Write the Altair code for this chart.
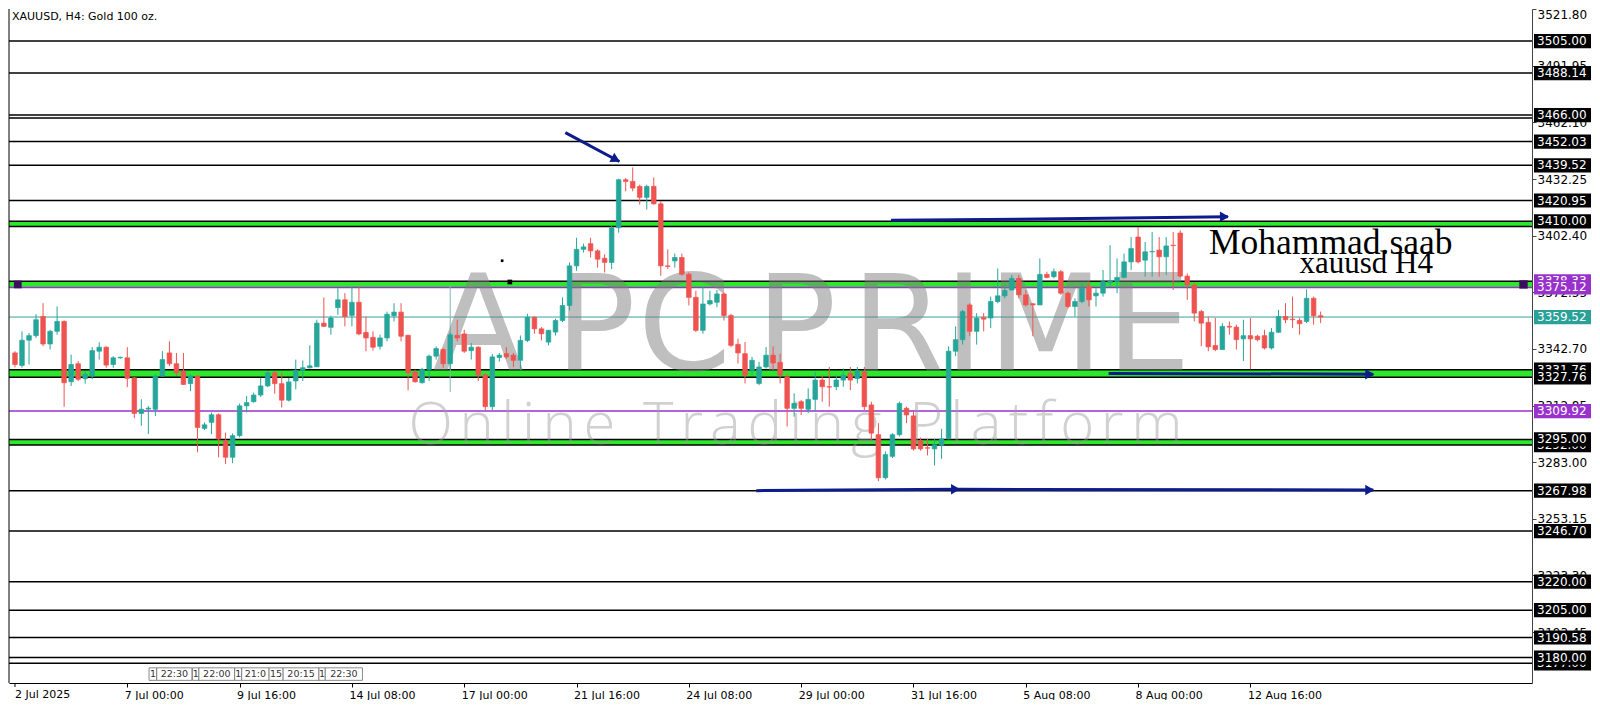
import altair as alt
import pandas as pd

W, H = 1523, 674
X_DOM = [0.86, 216.4]
Y_DOM = [3166.6, 3521.9]

opens = [3340.6,3334.0,3347.3,3349.7,3359.8,3345.3,3352.0,3357.2,3325.4,3334.9,3327.0,3328.4,3341.5,3343.6,3334.5,3338.0,3338.0,3327.5,3308.7,3311.0,
         3310.9,3328.4,3340.6,3334.9,3331.0,3324.4,3328.4,3300.8,3304.0,3308.0,3294.3,3285.6,3297.0,3312.7,3314.9,3318.4,3323.2,3330.1,3324.4,3315.7,
         3325.8,3331.4,3332.8,3333.3,3356.3,3354.1,3364.5,3368.6,3360.4,3367.3,3351.4,3348.8,3344.1,3348.5,3360.2,3362.1,3349.9,3330.5,3324.9,3331.9,
         3338.9,3342.4,3334.9,3349.9,3350.6,3341.8,3343.6,3329.0,3312.3,3338.2,3340.2,3339.4,3336.7,3347.2,3359.4,3353.3,3346.3,3351.6,3357.7,3365.6,
         3386.5,3395.2,3398.2,3394.4,3390.5,3388.3,3406.6,3431.9,3431.0,3428.4,3422.6,3428.4,3419.2,3386.5,3389.1,3390.9,3382.1,3369.9,3352.5,3366.4,
         3367.3,3371.7,3360.3,3345.1,3340.2,3331.5,3324.5,3333.2,3339.4,3335.6,3328.0,3311.4,3314.9,3310.9,3316.1,3326.3,3322.8,3322.8,3326.3,3329.8,
         3327.1,3330.6,3313.2,3297.5,3274.8,3286.1,3297.5,3311.4,3307.4,3294.4,3290.6,3290.0,3292.0,3295.3,3341.5,3347.6,3365.9,3352.0,3359.3,3359.0,
         3367.7,3370.7,3373.8,3379.9,3371.2,3366.5,3365.9,3382.0,3380.8,3383.4,3372.1,3365.1,3367.7,3375.5,3370.7,3372.1,3377.6,3378.2,3380.4,3388.6,
         3401.7,3389.5,3393.9,3394.8,3391.3,3397.4,3403.8,3381.1,3376.4,3362.4,3356.7,3344.5,3342.4,3354.6,3354.2,3348.0,3349.7,3349.4,3349.7,3343.2,
         3351.5,3359.8,3358.4,3357.7,3357.2,3369.4,3360.2]
highs = [3341.5,3352.0,3351.1,3361.0,3366.8,3352.8,3365.1,3357.8,3339.7,3336.3,3331.0,3343.6,3346.2,3344.1,3338.9,3338.6,3343.6,3327.9,3316.2,3312.6,
         3329.3,3341.5,3346.7,3340.6,3340.6,3329.3,3328.9,3303.9,3309.2,3308.7,3298.6,3298.2,3313.9,3317.9,3319.7,3327.5,3331.0,3331.0,3330.1,3327.5,
         3337.1,3336.6,3344.6,3358.1,3369.8,3360.2,3374.7,3372.1,3375.5,3375.5,3359.8,3352.0,3350.2,3362.4,3366.8,3366.8,3350.2,3331.9,3332.8,3339.7,
         3344.1,3343.2,3351.4,3358.1,3352.8,3345.8,3344.1,3330.0,3340.0,3340.6,3343.7,3340.6,3349.8,3361.2,3359.8,3354.2,3352.8,3358.6,3369.9,3388.3,
         3401.3,3398.2,3401.3,3395.2,3392.6,3407.5,3432.4,3432.8,3438.4,3429.3,3429.3,3433.1,3420.6,3395.2,3393.0,3393.0,3383.0,3373.4,3375.2,3373.4,
         3373.8,3372.5,3361.2,3348.1,3346.3,3338.5,3335.9,3343.7,3344.1,3340.2,3329.8,3319.3,3315.8,3321.9,3330.6,3328.9,3333.2,3328.9,3332.4,3333.2,
         3333.2,3333.2,3314.9,3303.6,3288.7,3298.3,3314.9,3312.3,3310.1,3296.0,3295.3,3295.3,3300.6,3344.1,3354.6,3363.3,3366.8,3361.6,3361.6,3370.3,
         3385.1,3376.4,3381.7,3381.7,3373.8,3366.8,3390.4,3383.4,3385.1,3384.3,3372.9,3369.4,3377.3,3378.2,3374.7,3384.3,3397.4,3390.4,3393.0,3401.7,
         3407.0,3399.1,3404.4,3401.7,3401.7,3404.4,3405.2,3382.5,3377.6,3363.3,3359.8,3359.0,3356.3,3357.2,3355.5,3358.1,3359.0,3350.2,3352.8,3353.7,
         3363.3,3366.8,3370.3,3359.0,3374.1,3370.3,3362.4]
lows = [3333.0,3332.8,3334.5,3348.5,3344.1,3342.4,3350.2,3312.2,3323.2,3325.8,3324.4,3326.7,3337.1,3332.8,3332.8,3337.6,3322.6,3306.2,3302.2,3297.8,
        3307.4,3327.9,3333.6,3328.4,3323.7,3320.5,3288.2,3300.0,3297.8,3285.6,3282.0,3282.5,3296.1,3309.2,3314.4,3317.4,3322.6,3319.1,3311.8,3315.0,
        3321.4,3325.8,3332.4,3333.1,3354.4,3350.2,3360.7,3354.6,3354.6,3349.9,3341.5,3341.8,3342.4,3346.7,3357.2,3346.7,3320.9,3324.9,3324.4,3325.8,
        3337.1,3332.8,3331.9,3346.7,3340.6,3337.1,3325.8,3310.5,3310.5,3336.0,3337.6,3333.2,3331.5,3346.3,3350.7,3347.2,3344.6,3349.8,3356.8,3363.0,
        3383.9,3393.5,3390.9,3385.6,3383.0,3384.8,3404.0,3425.8,3425.8,3418.8,3416.2,3418.8,3381.3,3384.8,3385.6,3381.3,3365.6,3351.6,3350.7,3365.6,
        3364.7,3357.7,3343.7,3335.0,3324.5,3328.9,3323.6,3332.4,3331.5,3324.5,3301.8,3307.0,3307.9,3308.8,3309.7,3314.9,3312.3,3321.0,3322.8,3321.0,
        3324.5,3310.5,3294.8,3273.0,3273.9,3285.2,3296.6,3303.6,3289.1,3289.1,3286.6,3281.3,3284.8,3295.0,3338.9,3345.0,3349.4,3345.0,3352.0,3353.7,
        3366.8,3369.4,3373.5,3369.4,3365.1,3349.4,3365.9,3379.9,3379.9,3371.2,3364.2,3359.8,3366.8,3365.1,3365.1,3370.3,3375.5,3372.1,3379.9,3384.3,
        3387.8,3380.8,3380.8,3380.8,3381.7,3373.8,3380.4,3368.6,3357.2,3344.1,3341.5,3341.5,3342.4,3350.2,3342.4,3336.3,3331.9,3346.7,3342.4,3342.4,
        3351.1,3356.3,3353.7,3350.2,3356.3,3355.5,3356.3]
closes = [3334.5,3347.3,3349.7,3358.1,3345.3,3352.0,3357.2,3324.9,3334.5,3326.7,3329.3,3341.8,3343.6,3334.2,3338.0,3338.3,3327.2,3308.7,3310.9,3311.5,
          3328.4,3337.1,3334.9,3330.1,3324.0,3328.4,3301.3,3302.7,3308.0,3295.2,3285.6,3297.0,3312.7,3314.4,3318.4,3323.2,3330.1,3324.4,3315.7,3325.3,
          3331.4,3332.8,3333.8,3356.3,3354.6,3359.0,3368.6,3359.8,3367.3,3350.6,3348.5,3343.6,3348.5,3361.0,3362.1,3349.4,3330.1,3325.4,3331.9,3338.9,
          3342.9,3334.9,3350.2,3348.5,3341.5,3343.6,3328.9,3312.3,3338.5,3339.4,3338.5,3336.7,3347.2,3359.4,3353.3,3350.7,3352.5,3357.7,3365.6,3386.5,
          3395.2,3396.5,3394.4,3390.0,3388.3,3406.6,3431.9,3431.0,3427.5,3422.6,3428.4,3419.2,3386.5,3386.2,3390.9,3382.1,3369.9,3352.5,3366.4,3368.2,
          3371.7,3360.3,3344.6,3340.6,3328.9,3336.7,3333.2,3339.4,3335.3,3328.9,3311.4,3314.0,3311.4,3316.1,3326.3,3322.8,3322.6,3326.3,3328.9,3326.3,
          3331.2,3312.3,3298.3,3274.8,3287.0,3297.5,3314.0,3307.9,3290.0,3290.0,3290.4,3292.2,3295.3,3341.5,3347.6,3362.4,3352.0,3359.0,3358.4,3367.7,
          3370.7,3373.5,3379.9,3371.2,3365.9,3365.9,3382.0,3380.4,3383.4,3372.1,3365.1,3367.7,3374.7,3368.6,3372.1,3378.2,3378.6,3380.4,3388.6,3395.6,
          3388.6,3393.9,3394.1,3391.3,3397.0,3397.2,3381.1,3376.4,3361.6,3356.3,3343.8,3342.4,3354.6,3354.2,3347.6,3349.7,3348.0,3347.6,3343.2,3351.5,
          3359.8,3358.1,3358.1,3356.0,3369.4,3360.2,3359.5]

# x axis labels (every 16 H4 bars); the first one is drawn separately so it stays inside the frame
x_first_val, x_first_label = 1, "2 Jul 2025"
x_tick_vals = [17, 33, 49, 65, 81, 97, 113, 129, 145, 161, 177]
x_tick_labels = ["7 Jul 00:00", "9 Jul 16:00", "14 Jul 08:00", "17 Jul 00:00", "21 Jul 16:00",
                 "24 Jul 08:00", "29 Jul 00:00", "31 Jul 16:00", "5 Aug 08:00", "8 Aug 00:00", "12 Aug 16:00"]
y_tick_vals = [3521.80, 3491.95, 3462.10, 3432.25, 3402.40, 3372.55, 3342.70, 3312.85, 3283.00, 3253.15, 3223.30, 3193.45]

# horizontal levels
line_prices = [3505.00, 3488.14, 3466.00, 3464.40, 3452.03, 3439.52, 3420.95, 3410.00, 3407.20, 3378.33, 3375.12,
               3359.52, 3331.76, 3327.76, 3309.92, 3295.00, 3292.00, 3267.98, 3246.70, 3220.00, 3205.00, 3190.58,
               3180.00, 3177.00]
line_colors = ["#000000"] * 10 + ["#9932cc", "#3a9fa0"] + ["#000000"] * 2 + ["#9932cc"] + ["#000000"] * 9
line_widths = [1.5] * 10 + [1.5, 1.0] + [1.5] * 2 + [1.5] + [1.5] * 9

band_lo = [3407.20, 3375.12, 3327.76, 3292.00]
band_hi = [3410.00, 3378.33, 3331.76, 3295.00]

# price tags on the right
tag_bg_prices = [3378.33, 3331.76, 3292.00, 3177.00]
tag_bg_colors = ["#9932cc", "#000000", "#000000", "#000000"]
tag_fg_prices = [3505.00, 3488.14, 3466.00, 3452.03, 3439.52, 3420.95, 3410.00, 3375.12, 3359.52, 3327.76,
                 3309.92, 3295.00, 3267.98, 3246.70, 3220.00, 3205.00, 3190.58, 3180.00]
tag_fg_colors = ["#000000"] * 7 + ["#9932cc", "#2aa198", "#000000", "#9932cc"] + ["#000000"] * 7

# drawn arrows (bar index, price)
arrow_id = ["a1", "a1", "a2", "a2", "a2", "a3", "a3", "a4", "a4", "a4"]
arrow_n = [79.4, 87.1, 125.8, 150.0, 173.8, 156.8, 194.5, 106.6, 135.5, 194.5]
arrow_p = [3456.7, 3441.5, 3410.6, 3411.3, 3412.4, 3329.8, 3329.4, 3268.0, 3268.7, 3268.4]
head_n = [86.6, 173.3, 194.0, 135.0, 194.0]
head_p = [3442.5, 3412.4, 3329.4, 3268.7, 3268.4]
head_angle = [28, 0, 0, 0, 0]

# time markers strip
tm_start = [20.1, 21.2, 26.3, 27.2, 32.3, 33.3, 37.2, 39.2, 44.3, 45.2]
tm_end = [21.2, 26.2, 27.2, 32.3, 33.3, 37.2, 39.2, 44.3, 45.2, 50.5]
tm_text = ["1", "22:30", "1", "22:00", "1", "21:0", "15", "20:15", "1", "22:30"]

# watermark letters
wm_letters = ["A", "P", "C", "P", "R", "I", "M", "E"]
wm_letter_n = [67.0, 83.7, 96.4, 112.3, 126.8, 136.2, 147.8, 162.5]
wm_sub = "Online Trading Platform"

FONT = "DejaVu Sans"
xs = alt.Scale(domain=X_DOM, nice=False, zero=False)
ys = alt.Scale(domain=Y_DOM, nice=False, zero=False)

label_expr = "[" + ",".join("'%s'" % s for s in x_tick_labels) + "][round((datum.value-17)/16)]"
x_axis = alt.Axis(values=x_tick_vals, labelExpr=label_expr, title=None, grid=False, orient="bottom",
                  labelAlign="left", labelPadding=2, labelOffset=-3, tickSize=4, tickColor="#000000",
                  domainColor="#000000", labelFont=FONT, labelFontSize=11, labelColor="#000000",
                  labelOverlap=False, labelFlush=False)
y_axis = alt.Axis(values=y_tick_vals, format=".2f", orient="right", title=None, grid=False, tickSize=4,
                  labelPadding=1, tickColor="#444444", domainColor="#444444", labelFont=FONT, labelFontSize=12,
                  labelColor="#000000", labelOverlap=False, labelFlush=4, labelAlign="left")


def X(f):
    return alt.X(f, scale=xs, axis=x_axis)


def Y(f):
    return alt.Y(f, scale=ys, axis=y_axis)


bars = pd.DataFrame({"n": list(range(1, len(opens) + 1)), "o": opens, "h": highs, "l": lows, "c": closes})
bars["col"] = ["#26a69a" if c >= o else "#ef5350" for o, c in zip(opens, closes)]

bands_df = pd.DataFrame({"lo": band_lo, "hi": band_hi})
bands = alt.Chart(bands_df).mark_rect(color="#2ee62e").encode(
    x=alt.value(0), x2=alt.value(W), y=Y("lo:Q"), y2="hi:Q")

lines_df = pd.DataFrame({"p": line_prices, "col": line_colors, "w": line_widths})
hlines = alt.Chart(lines_df).mark_rule().encode(
    y=Y("p:Q"), color=alt.Color("col:N", scale=None), strokeWidth=alt.StrokeWidth("w:Q", scale=None))

vline = alt.Chart(pd.DataFrame({"n": [63], "a": [3376.0], "b": [3320.0]})).mark_rule(
    color="#86b4b4", strokeWidth=1).encode(x=X("n:Q"), y=Y("a:Q"), y2="b:Q")

# watermark: big letters placed where they sit in the picture
wm_df = pd.DataFrame({"n": wm_letter_n, "p": [3331.7] * len(wm_letters), "t": wm_letters})
wm1 = alt.Chart(wm_df).mark_text(font=FONT, fontSize=134, align="center", baseline="alphabetic",
                                 color="#808080", opacity=0.5).encode(x=X("n:Q"), y=Y("p:Q"), text="t:N")

# subtitle letters with wide tracking (approximate Open Sans advance widths, em)
adv = {"O": .78, "n": .617, "l": .258, "i": .258, "e": .561, " ": .26, "T": .552, "r": .408, "a": .556,
       "d": .613, "g": .546, "P": .603, "t": .361, "f": .336, "o": .6, "m": .937}
SUB_FS = 58
sub_start_n, sub_end_n = 57.0, 167.5
total_px = (sub_end_n - sub_start_n) * W / (X_DOM[1] - X_DOM[0])
nat = sum(adv[ch] for ch in wm_sub) * SUB_FS
track = (total_px - nat) / (len(wm_sub) - 1)
pos, cur = [], 0.0
for ch in wm_sub:
    w = adv[ch] * SUB_FS
    pos.append(sub_start_n + (cur + w / 2) * (X_DOM[1] - X_DOM[0]) / W)
    cur += w + track
sub_df = pd.DataFrame({"n": pos, "p": [3292.5] * len(wm_sub), "t": list(wm_sub)})
wm2 = alt.Chart(sub_df).mark_text(font="Open Sans", fontSize=SUB_FS, fontWeight=300, align="center",
                                  baseline="alphabetic", color="#9a9a9a", opacity=0.45).encode(
    x=X("n:Q"), y=Y("p:Q"), text="t:N")

wick = alt.Chart(bars).mark_rule(strokeWidth=1).encode(
    x=X("n:Q"), y=Y("l:Q"), y2="h:Q", color=alt.Color("col:N", scale=None))
body = alt.Chart(bars).mark_bar(size=4.6, strokeWidth=0.7).encode(
    x=X("n:Q"), y=Y("o:Q"), y2="c:Q", color=alt.Color("col:N", scale=None),
    stroke=alt.Stroke("col:N", scale=None))

arr_df = pd.DataFrame({"id": arrow_id, "n": arrow_n, "p": arrow_p})
arr = alt.Chart(arr_df).mark_line(color="#0c1c8c", strokeWidth=3).encode(
    x=X("n:Q"), y=Y("p:Q"), detail="id:N")
heads_df = pd.DataFrame({"n": head_n, "p": head_p, "ang": head_angle})
heads = alt.Chart(heads_df).mark_point(shape="triangle-right", filled=True, size=110, color="#0c1c8c",
                                       opacity=1).encode(
    x=X("n:Q"), y=Y("p:Q"), angle=alt.Angle("ang:Q", scale=None))

handles_df = pd.DataFrame({"n": [1.4, 215.9, 71.5, 70.4], "p": [3376.7, 3376.7, 3378.0, 3389.2],
                           "s": [60, 70, 22, 7], "col": ["#3b0f5c", "#3b0f5c", "#000000", "#000000"]})
handles = alt.Chart(handles_df).mark_square(opacity=1).encode(
    x=X("n:Q"), y=Y("p:Q"), size=alt.Size("s:Q", scale=None), color=alt.Color("col:N", scale=None))

sig_df = pd.DataFrame({"n": [171.1], "p": [3392.8], "t": ["Mohammad.saab"]})
sig1 = alt.Chart(sig_df).mark_text(font="Liberation Serif", fontSize=35.5, align="left",
                                   baseline="alphabetic", color="#000000").encode(
    x=X("n:Q"), y=Y("p:Q"), text="t:N")
sig2_df = pd.DataFrame({"n": [203.0], "p": [3382.6], "t": ["xauusd H4"]})
sig2 = alt.Chart(sig2_df).mark_text(font="Liberation Serif", fontSize=31, align="right",
                                    baseline="alphabetic", color="#000000").encode(
    x=X("n:Q"), y=Y("p:Q"), text="t:N")

title = alt.Chart(pd.DataFrame({"t": ["XAUUSD, H4:  Gold 100 oz."]})).mark_text(
    font=FONT, fontSize=11, align="left", baseline="top", color="#000000").encode(
    x=alt.value(3), y=alt.value(2), text="t:N")

# first date label + its tick, kept inside the frame
first_df = pd.DataFrame({"n": [x_first_val], "t": [x_first_label]})
first_tick = alt.Chart(first_df).mark_rule(color="#000000", strokeWidth=1).encode(
    x=X("n:Q"), y=alt.value(H), y2=alt.value(H + 4))
first_lab = alt.Chart(first_df).mark_text(font=FONT, fontSize=11, align="left", baseline="top",
                                          color="#000000").encode(
    x=X("n:Q"), y=alt.value(H + 6), text="t:N")

tm_df = pd.DataFrame({"a": tm_start, "b": tm_end, "t": tm_text})
tm_df["m"] = (tm_df["a"] + tm_df["b"]) / 2
tm_df["ya"] = 3174.6
tm_df["yb"] = 3168.0
tm_df["ym"] = 3171.3
tm_box = alt.Chart(tm_df).mark_rect(fill="#ffffff", stroke="#6f6f6f", strokeWidth=0.8).encode(
    x=X("a:Q"), x2="b:Q", y=Y("ya:Q"), y2="yb:Q")
tm_txt = alt.Chart(tm_df).mark_text(font=FONT, fontSize=9.5, align="center", baseline="middle",
                                    color="#333333").encode(x=X("m:Q"), y=Y("ym:Q"), text="t:N")


def tags(prices, colors):
    df = pd.DataFrame({"p": prices, "col": colors, "lab": ["%.2f" % v for v in prices]})
    df["top"] = df["p"] + 3.75
    df["bot"] = df["p"] - 3.75
    r = alt.Chart(df).mark_rect().encode(
        x=alt.value(W + 2), x2=alt.value(W + 59), y=Y("top:Q"), y2="bot:Q",
        color=alt.Color("col:N", scale=None))
    t = alt.Chart(df).mark_text(font=FONT, fontSize=12, align="left", baseline="middle",
                                color="#ffffff").encode(x=alt.value(W + 5), y=Y("p:Q"), text="lab:N")
    return r, t


bg_r, bg_t = tags(tag_bg_prices, tag_bg_colors)
fg_r, fg_t = tags(tag_fg_prices, tag_fg_colors)

left_border = alt.Chart(pd.DataFrame({"k": [0]})).mark_rule(color="#000000", strokeWidth=1).encode(
    x=alt.value(0))

chart = alt.layer(
    bands, hlines, vline, wm1, wm2, wick, body, arr, heads, handles, sig1, sig2, title,
    first_tick, first_lab, tm_box, tm_txt, bg_r, bg_t, fg_r, fg_t, left_border
).properties(
    width=W, height=H, padding={"left": 0, "top": 0, "right": 0, "bottom": 0}
).configure_view(stroke=None).configure_axis(grid=False)

chart.save("out.html", embed_options={"renderer": "svg", "actions": False})
